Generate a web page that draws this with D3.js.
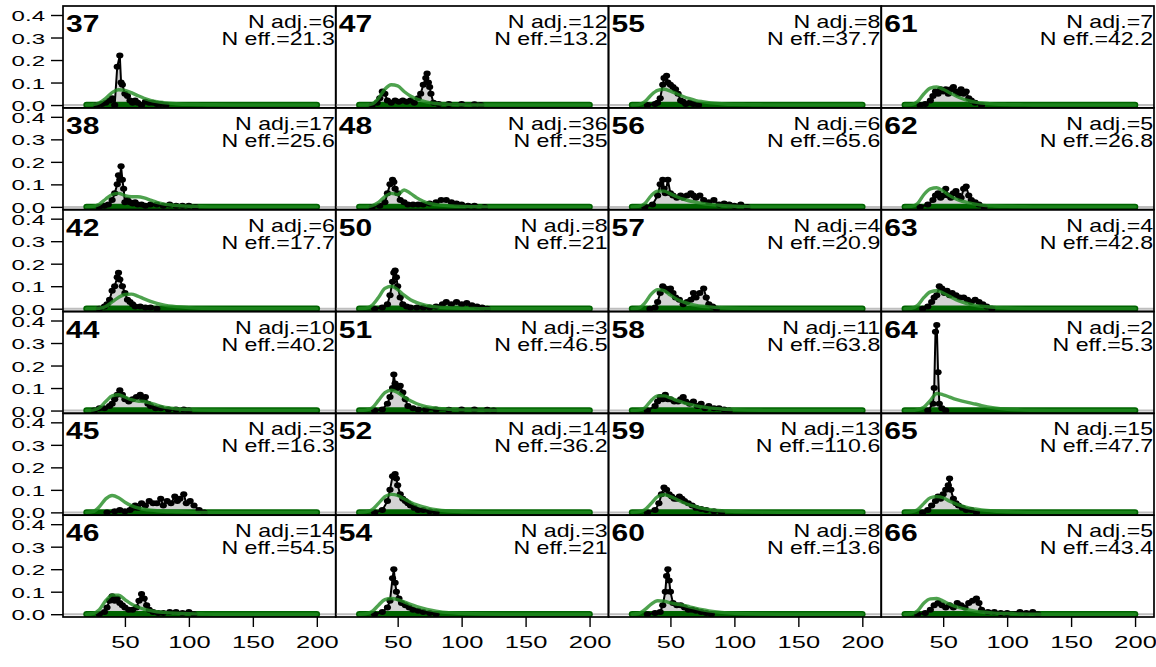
<!DOCTYPE html>
<html><head><meta charset="utf-8">
<script src="https://cdn.jsdelivr.net/npm/d3@7"></script>
<style>
body{margin:0;background:#fff}
svg{display:block}
text{font-family:"Liberation Sans",Arial,Helvetica,sans-serif;fill:#000}
</style></head>
<body>
<svg id="chart" width="1156" height="667"></svg>
<script>
// ---------- DATA ----------
const panelIds = [37,47,55,61, 38,48,56,62, 42,50,57,63, 44,51,58,64, 45,52,59,65, 46,54,60,66];
const nAdj = [6,12,8,7, 17,36,6,5, 6,8,4,4, 10,3,11,2, 3,14,13,15, 14,3,8,5];
const nEff = ["21.3","13.2","37.7","42.2", "25.6","35","65.6","26.8", "17.7","21","20.9","42.8",
              "40.2","46.5","63.8","5.3", "16.3","36.2","110.6","47.7", "54.5","21","13.6","43.4"];
const xTicks = [50,100,150,200];
const yTicks = [0.0,0.1,0.2,0.3,0.4];
const zeroRange = [20,200];   // extent of the dark-green zero markers
const greenX = [20,25,30,35,40,45,50,55,60,65,70,75,80,90,100,110,120,140,160,180,200];

// observed proportions (black), one list of [x, y] per panel
const black37=[[28,0],[32,0.005],[35,0.01],[38,0.02],[40,0.03],[42,0],[44,0.17],[46,0.22],[47,0.1],[48,0.09],[50,0.05],[52,0.04],[54,0.02],[56,0.01],[58,0.02],[60,0.01],[63,0],[66,0.015],[69,0.01],[72,0.01],[75,0.005],[78,0.005],[82,0]];
const black47=[[30,0],[34,0.01],[36,0.03],[38,0.06],[40,0.05],[42,0.02],[45,0.01],[48,0.02],[51,0.015],[54,0.02],[57,0.015],[60,0.02],[63,0.01],[66,0.03],[68,0.05],[70,0.09],[72,0.12],[73,0.14],[74,0.1],[75,0.08],[76,0.05],[78,0.01],[82,0.005],[90,0.005],[100,0.005],[110,0.003],[115,0]];
const black55=[[32,0],[38,0.005],[40,0.01],[42,0.03],[44,0.09],[45,0.12],[47,0.13],[48,0.1],[50,0.09],[52,0.08],[54,0.07],[56,0.05],[58,0.02],[60,0.015],[62,0.005],[65,0.01],[68,0.005],[72,0]];
const black61=[[32,0],[36,0.005],[40,0.02],[42,0.04],[44,0.06],[46,0.05],[48,0.07],[50,0.06],[52,0.07],[54,0.05],[56,0.07],[58,0.08],[60,0.06],[62,0.05],[64,0.07],[66,0.05],[68,0.06],[70,0.03],[72,0.02],[75,0.01],[80,0]];
const black38=[[30,0],[34,0.005],[37,0.01],[40,0.03],[42,0.06],[44,0.1],[45,0.14],[46,0.12],[47,0.18],[48,0.12],[49,0.08],[50,0.02],[52,0.03],[54,0.02],[56,0.015],[58,0.02],[60,0.01],[63,0.01],[66,0.005],[70,0.01],[75,0.01],[80,0.005],[85,0.01],[90,0.005],[95,0.005],[100,0.005],[105,0]];
const black48=[[30,0],[36,0.005],[40,0.02],[42,0.06],[44,0.1],[46,0.12],[47,0.11],[48,0.08],[50,0.06],[52,0.03],[55,0.02],[58,0.01],[62,0.01],[66,0.01],[70,0.01],[75,0.015],[80,0.02],[84,0.03],[88,0.03],[92,0.02],[96,0.015],[100,0.01],[105,0.005],[110,0.005],[118,0]];
const black56=[[30,0],[36,0.01],[40,0.05],[42,0.1],[44,0.12],[45,0.08],[46,0.06],[48,0.12],[50,0.06],[52,0.05],[55,0.04],[58,0.05],[60,0.04],[63,0.05],[66,0.06],[68,0.05],[70,0.04],[73,0.05],[76,0.03],[80,0.02],[84,0.03],[88,0.01],[92,0.015],[96,0.01],[100,0.005],[105,0.01],[110,0]];
const black62=[[32,0],[38,0.01],[42,0.03],[44,0.05],[46,0.06],[48,0.04],[50,0.05],[52,0.08],[54,0.05],[56,0.04],[58,0.06],[60,0.07],[62,0.05],[64,0.04],[66,0.08],[68,0.09],[70,0.05],[72,0.03],[75,0.02],[78,0.01],[82,0]];
const black42=[[30,0],[34,0.01],[36,0.02],[38,0.04],[40,0.08],[42,0.1],[44,0.14],[45,0.16],[46,0.13],[48,0.1],[50,0.07],[52,0.04],[54,0.03],[56,0.02],[58,0.01],[62,0.01],[66,0.005],[70,0.005],[75,0]];
const black50=[[32,0],[38,0.005],[42,0.02],[44,0.06],[46,0.12],[47,0.16],[48,0.17],[49,0.14],[50,0.1],[52,0.05],[54,0.02],[57,0.01],[60,0.005],[65,0.005],[70,0.005],[75,0.005],[80,0.01],[85,0.02],[88,0.03],[92,0.02],[96,0.03],[100,0.02],[104,0.025],[108,0.015],[112,0.01],[116,0.005],[120,0]];
const black57=[[34,0],[38,0.005],[40,0.03],[42,0.07],[44,0.1],[46,0.09],[48,0.08],[50,0.09],[52,0.07],[54,0.05],[57,0.04],[60,0.02],[63,0.03],[66,0.04],[68,0.07],[70,0.05],[73,0.07],[76,0.09],[78,0.05],[80,0.02],[83,0.01],[86,0]];
const black63=[[34,0],[38,0.01],[41,0.03],[43,0.05],[45,0.06],[47,0.1],[49,0.09],[51,0.07],[53,0.08],[55,0.06],[57,0.07],[60,0.06],[63,0.05],[66,0.05],[69,0.04],[72,0.03],[75,0.04],[78,0.03],[81,0.02],[84,0.01],[88,0]];
const black44=[[26,0],[30,0.01],[34,0.01],[38,0.02],[40,0.03],[42,0.05],[44,0.07],[46,0.09],[48,0.07],[50,0.05],[53,0.04],[56,0.05],[59,0.06],[62,0.07],[64,0.05],[66,0.06],[68,0.03],[70,0.02],[74,0.01],[78,0.01],[84,0.005],[90,0.005],[96,0.005],[100,0]];
const black51=[[32,0],[38,0.005],[42,0.03],[44,0.06],[46,0.1],[47,0.16],[48,0.12],[50,0.1],[52,0.11],[54,0.08],[56,0.05],[58,0.02],[62,0.01],[66,0.005],[72,0.005],[80,0.005],[90,0.003],[100,0.005],[110,0.005],[120,0.003],[125,0]];
const black58=[[32,0],[38,0.02],[40,0.04],[42,0.06],[44,0.05],[46,0.07],[48,0.05],[50,0.05],[53,0.04],[56,0.04],[58,0.05],[60,0.06],[62,0.04],[65,0.03],[68,0.04],[71,0.02],[74,0.03],[77,0.01],[80,0.02],[84,0.01],[88,0.01],[92,0.005],[96,0]];
const black64=[[38,0],[42,0.03],[43,0.1],[44,0.35],[45,0.38],[46,0.17],[47,0.03],[49,0.01],[52,0]];
const black45=[[36,0],[42,0.005],[46,0.01],[50,0.005],[54,0.01],[56,0.02],[58,0.03],[60,0.02],[63,0.04],[66,0.03],[69,0.05],[72,0.04],[75,0.04],[78,0.06],[80,0.03],[83,0.05],[86,0.04],[89,0.07],[91,0.05],[93,0.06],[96,0.08],[98,0.04],[101,0.05],[104,0.03],[108,0.01],[112,0]];
const black52=[[32,0],[38,0.01],[42,0.05],[44,0.1],[46,0.16],[47,0.16],[48,0.17],[49,0.15],[50,0.12],[52,0.08],[54,0.06],[56,0.05],[58,0.04],[60,0.03],[63,0.02],[66,0.01],[70,0.01],[75,0.005],[80,0]];
const black59=[[32,0],[38,0.01],[41,0.04],[43,0.08],[45,0.11],[47,0.1],[49,0.08],[51,0.07],[53,0.06],[55,0.06],[57,0.07],[59,0.06],[61,0.05],[64,0.04],[67,0.03],[70,0.02],[74,0.015],[78,0.01],[84,0.005],[90,0]];
const black65=[[34,0],[38,0.01],[41,0.03],[44,0.05],[46,0.07],[48,0.06],[50,0.08],[52,0.1],[54,0.12],[55,0.15],[56,0.1],[58,0.06],[60,0.04],[62,0.03],[65,0.02],[68,0.01],[72,0.01],[76,0]];
const black46=[[30,0],[34,0.01],[36,0.03],[38,0.06],[40,0.08],[42,0.06],[44,0.07],[46,0.05],[48,0.04],[50,0.03],[53,0.02],[56,0.02],[59,0.03],[61,0.06],[63,0.09],[65,0.07],[67,0.04],[69,0.02],[72,0.01],[76,0.005],[80,0.005],[85,0.01],[90,0.01],[95,0.005],[100,0.01],[104,0]];
const black54=[[32,0],[38,0.01],[42,0.03],[44,0.06],[46,0.16],[47,0.2],[48,0.14],[49,0.1],[51,0.07],[53,0.05],[56,0.04],[59,0.03],[62,0.02],[66,0.015],[70,0.01],[75,0.005],[80,0]];
const black60=[[32,0],[38,0.005],[42,0.01],[44,0.04],[46,0.1],[47,0.17],[48,0.2],[49,0.15],[50,0.1],[52,0.05],[55,0.04],[58,0.04],[61,0.03],[64,0.02],[67,0.02],[70,0.015],[74,0.01],[78,0.005],[82,0]];
const black66=[[30,0],[36,0.005],[40,0.02],[43,0.04],[46,0.05],[49,0.04],[52,0.03],[55,0.04],[58,0.03],[61,0.05],[64,0.04],[67,0.03],[70,0.05],[73,0.06],[76,0.07],[78,0.05],[80,0.02],[85,0.01],[90,0.01],[95,0.005],[100,0.005],[110,0.01],[115,0.005],[120,0.01],[124,0]];

// fitted curves (green), values at greenX
const green37=[0,0.002,0.01,0.03,0.055,0.068,0.065,0.055,0.042,0.03,0.021,0.015,0.011,0.006,0.003,0.002,0.001,0,0,0,0];
const green47=[0,0,0.005,0.03,0.07,0.09,0.085,0.06,0.04,0.026,0.017,0.011,0.007,0.003,0.001,0,0,0,0,0,0];
const green55=[0,0.002,0.015,0.045,0.065,0.07,0.062,0.05,0.038,0.028,0.02,0.015,0.011,0.006,0.003,0.002,0.001,0,0,0,0];
const green61=[0,0.002,0.015,0.05,0.075,0.08,0.07,0.055,0.04,0.028,0.019,0.013,0.009,0.004,0.002,0.001,0,0,0,0,0];
const green38=[0,0.002,0.012,0.035,0.055,0.06,0.05,0.045,0.045,0.04,0.03,0.02,0.013,0.006,0.003,0.001,0,0,0,0,0];
const green48=[0,0,0.005,0.02,0.045,0.06,0.055,0.075,0.06,0.04,0.025,0.015,0.01,0.005,0.002,0.001,0,0,0,0,0];
const green56=[0,0.002,0.015,0.05,0.07,0.07,0.058,0.045,0.034,0.026,0.02,0.015,0.011,0.006,0.003,0.001,0,0,0,0,0];
const green62=[0,0.002,0.015,0.055,0.08,0.085,0.07,0.05,0.035,0.025,0.018,0.012,0.008,0.004,0.002,0.001,0,0,0,0,0];
const green42=[0,0,0.002,0.01,0.03,0.05,0.063,0.065,0.056,0.044,0.033,0.024,0.017,0.009,0.005,0.002,0.001,0,0,0,0];
const green50=[0,0.002,0.015,0.05,0.09,0.1,0.085,0.06,0.04,0.027,0.018,0.012,0.008,0.004,0.002,0.001,0,0,0,0,0];
const green57=[0,0.003,0.025,0.065,0.085,0.08,0.06,0.042,0.03,0.021,0.015,0.011,0.008,0.004,0.002,0.001,0,0,0,0,0];
const green63=[0,0.002,0.015,0.05,0.075,0.08,0.07,0.055,0.04,0.029,0.021,0.015,0.011,0.006,0.003,0.001,0,0,0,0,0];
const green44=[0,0.002,0.012,0.04,0.065,0.07,0.06,0.048,0.042,0.04,0.033,0.024,0.016,0.008,0.004,0.002,0.001,0,0,0,0];
const green51=[0,0.002,0.012,0.045,0.08,0.09,0.08,0.06,0.043,0.03,0.021,0.015,0.011,0.006,0.003,0.002,0.001,0,0,0,0];
const green58=[0,0.002,0.012,0.045,0.065,0.065,0.056,0.045,0.035,0.027,0.021,0.016,0.012,0.007,0.004,0.002,0.001,0,0,0,0];
const green64=[0,0,0.004,0.015,0.045,0.076,0.07,0.06,0.05,0.042,0.035,0.029,0.022,0.012,0.006,0.003,0.001,0,0,0,0];
const green45=[0,0.003,0.025,0.06,0.075,0.065,0.045,0.03,0.02,0.014,0.01,0.007,0.005,0.003,0.001,0,0,0,0,0,0];
const green52=[0,0.002,0.012,0.04,0.07,0.08,0.075,0.06,0.045,0.033,0.024,0.017,0.012,0.006,0.003,0.001,0,0,0,0,0];
const green59=[0,0.002,0.012,0.04,0.07,0.078,0.07,0.057,0.044,0.033,0.025,0.018,0.013,0.007,0.004,0.002,0.001,0,0,0,0];
const green65=[0,0.002,0.012,0.04,0.065,0.07,0.065,0.05,0.038,0.028,0.02,0.015,0.011,0.006,0.003,0.001,0,0,0,0,0];
const green46=[0,0.003,0.02,0.06,0.085,0.085,0.065,0.045,0.032,0.022,0.016,0.011,0.008,0.004,0.002,0.001,0,0,0,0,0];
const green54=[0,0.002,0.012,0.04,0.065,0.07,0.065,0.055,0.044,0.034,0.026,0.019,0.014,0.007,0.004,0.002,0.001,0,0,0,0];
const green60=[0,0.003,0.02,0.045,0.06,0.058,0.05,0.045,0.04,0.033,0.026,0.02,0.015,0.008,0.004,0.002,0.001,0,0,0,0];
const green66=[0,0.002,0.015,0.05,0.068,0.07,0.058,0.045,0.034,0.026,0.019,0.014,0.01,0.005,0.003,0.001,0,0,0,0,0];

const blackSeries = [black37,black47,black55,black61, black38,black48,black56,black62,
  black42,black50,black57,black63, black44,black51,black58,black64,
  black45,black52,black59,black65, black46,black54,black60,black66];
const greenSeries = [green37,green47,green55,green61, green38,green48,green56,green62,
  green42,green50,green57,green63, green44,green51,green58,green64,
  green45,green52,green59,green65, green46,green54,green60,green66];

// ---------- LAYOUT ----------
const W=1156, H=667;
const mLeft=63, mRight=1154, mTop=6, mBottom=617;
const ncol=4, nrow=6;
const pw=(mRight-mLeft)/ncol, ph=(mBottom-mTop)/nrow;
const xDomain=[1.6,214.8], yDomain=[-0.0124,0.44];
const SX=1.25;      // horizontal stretch of panel texts seen in the reference
const SX_TICK=1.55; // axis labels look a bit wider still

const svg=d3.select("#chart");
svg.append("rect").attr("width",W).attr("height",H).attr("fill","#fff");
const defs=svg.append("defs");

function stretchedText(sel, px, py, anchor, size, weight, str, sx){
  sel.append("text")
    .attr("transform",`translate(${px},${py}) scale(${sx||SX},1)`)
    .attr("text-anchor",anchor).attr("font-size",size)
    .attr("font-weight",weight).text(str);
}

panelIds.forEach((id,i)=>{
  const r=Math.floor(i/ncol), c=i%ncol;
  const x0=mLeft+c*pw, y0=mTop+r*ph;
  const x=d3.scaleLinear().domain(xDomain).range([x0,x0+pw]);
  const y=d3.scaleLinear().domain(yDomain).range([y0+ph,y0]);
  defs.append("clipPath").attr("id","clip"+i).append("rect")
    .attr("x",x0).attr("y",y0).attr("width",pw).attr("height",ph);
  const g=svg.append("g").attr("clip-path",`url(#clip${i})`);

  g.append("line").attr("x1",x0).attr("x2",x0+pw).attr("y1",y(0)).attr("y2",y(0))
    .attr("stroke","#bebebe").attr("stroke-width",2);

  const pts=blackSeries[i];
  g.append("path").datum(pts)
    .attr("d",d3.area().x(d=>x(d[0])).y0(y(0)).y1(d=>y(d[1])))
    .attr("fill","#d3d3d3");

  g.append("line").attr("x1",x(zeroRange[0])).attr("x2",x(zeroRange[1]))
    .attr("y1",y(0)).attr("y2",y(0))
    .attr("stroke","#006400").attr("stroke-width",6.5).attr("stroke-linecap","round");

  g.append("path").datum(pts)
    .attr("d",d3.line().x(d=>x(d[0])).y(d=>y(d[1])))
    .attr("fill","none").attr("stroke","#000").attr("stroke-width",2);
  g.selectAll("ellipse.b").data(pts).join("ellipse").attr("class","b")
    .attr("cx",d=>x(d[0])).attr("cy",d=>y(d[1])).attr("rx",3.6).attr("ry",3).attr("fill","#000");

  const gpts=greenX.map((gx,k)=>[gx,greenSeries[i][k]]);
  g.append("path").datum(gpts)
    .attr("d",d3.line().curve(d3.curveMonotoneX).x(d=>x(d[0])).y(d=>y(d[1])))
    .attr("fill","none").attr("stroke","#228B22").attr("stroke-opacity",0.8)
    .attr("stroke-width",3.4).attr("stroke-linecap","round");

  stretchedText(svg, x0+3, y0+26, "start", 24, "bold", id);
  stretchedText(svg, x0+pw-1, y0+22, "end", 18.5, "normal", "N adj.="+nAdj[i]);
  stretchedText(svg, x0+pw-1, y0+39, "end", 18.5, "normal", "N eff.="+nEff[i]);

  svg.append("rect").attr("x",x0).attr("y",y0).attr("width",pw).attr("height",ph)
    .attr("fill","none").attr("stroke","#000").attr("stroke-width",1.7);

  if(c===0){
    const ax=svg.append("g").attr("transform",`translate(${x0},0)`)
      .call(d3.axisLeft(y).tickValues(yTicks).tickFormat(d3.format(".1f")).tickSize(12));
    ax.select(".domain").remove();
    ax.selectAll("line").attr("stroke","#000").attr("stroke-width",1.4);
    ax.selectAll("text").remove();
    ax.selectAll(".tick").each(function(d){
      stretchedText(d3.select(this), -18, 5.5, "end", 15.5, "normal", d3.format(".1f")(d), SX_TICK);
    });
  }
  if(r===nrow-1){
    const ax=svg.append("g").attr("transform",`translate(0,${y0+ph})`)
      .call(d3.axisBottom(x).tickValues(xTicks).tickSize(10));
    ax.select(".domain").remove();
    ax.selectAll("line").attr("stroke","#000").attr("stroke-width",1.4);
    ax.selectAll("text").remove();
    ax.selectAll(".tick").each(function(d){
      stretchedText(d3.select(this), 0, 31, "middle", 17, "normal", String(d), 1.5);
    });
  }
});
</script>
</body></html>
